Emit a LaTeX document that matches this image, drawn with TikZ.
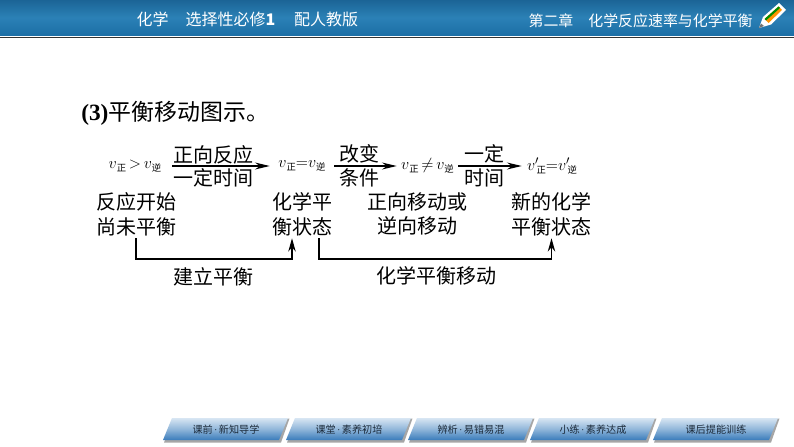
\documentclass[tikz,border=0pt]{standalone}
\usepackage{fontspec}
\setmainfont{Liberation Serif}
\newfontfamily\cjk{Noto Sans CJK SC}
\usetikzlibrary{arrows.meta,calc}
\newcommand{\fs}[1]{\fontsize{#1}{#1}\selectfont}
\newcommand{\vsub}[1]{$v$\raisebox{-2.4pt}{\cjk\fs{7}#1}}
\newcommand{\vsubp}[1]{$v'$\raisebox{-2.4pt}{\kern-2pt\cjk\fs{7}#1}}
\newcommand{\tabdot}{\kern1pt{\rmfamily ·}\kern1pt}
\definecolor{hdtop}{HTML}{1B6496}
\definecolor{hdmid}{HTML}{2B81B6}
\definecolor{hdbot}{HTML}{1C6FA6}
\definecolor{tabtop}{HTML}{D8E6F3}
\definecolor{tabbot}{HTML}{3A7CBB}
\definecolor{tabtext}{HTML}{1B2A3A}
\tikzset{
 hdtext/.style={inner sep=0pt,text=white,font=\cjk\fs{12}},
 hdtextr/.style={inner sep=0pt,text=white,font=\cjk\fs{11.2}},
 body/.style={inner sep=0pt,align=center,font=\cjk\fs{15}},
 twoline/.style={body,minimum height=36pt},
 mathnode/.style={inner sep=0pt,minimum height=12pt,font=\fs{12.4}},
 flow/.style={line width=1pt,-{Stealth[length=11pt,width=5.2pt]}},
 link/.style={line width=1pt,-{Stealth[length=10pt,width=5.6pt]}},
 tabtxt/.style={inner sep=0pt,text=tabtext,font=\cjk\fs{7.6}},
}
\newcommand{\tabbtn}[3]{%
 \fill[black!35] (#1+1,442.5) -- (#1+10,421) -- (#1+10,419) -- (#1+126.5,418.5) -- (#1+118,442.5) -- cycle;
 \shade[top color=tabtop,bottom color=tabbot,middle color=tabtop!55!tabbot] (#1,440) -- (#1+9,418) -- (#1+125,418) -- (#1+116,440) -- cycle;
 \node[tabtxt] (#2) at (#1+63,429.5) {#3};
}
\begin{document}
\begin{tikzpicture}[x=0.75pt,y=-0.75pt]
\useasboundingbox (0,0) rectangle (794,447);
\fill[white] (0,0) rectangle (794,447);
% header
\shade[top color=hdtop,bottom color=hdbot,middle color=hdmid] (0,0) rectangle (794,35);
\fill[black!80] (0,37) rectangle (794,38);
\node[hdtext] (h1) at (152.5,19.5) {化学};
\node[hdtext] (h2) at (230.5,19.5) {选择性必修{\bfseries 1}};
\node[hdtext] (h3) at (326,19.5) {配人教版};
\node[hdtextr] (h4) at (551,20.5) {第二章};
\node[hdtextr] (h5) at (670.5,20.5) {化学反应速率与化学平衡};
% pencil
\fill[white] (759,28) -- (763,17) -- (779,3) -- (786,10) -- (771,24.5) -- cycle;
\fill[orange!85!yellow] (764.5,19) -- (778.5,6.5) -- (782,10) -- (768.5,23) -- cycle;
\fill[green!55!black] (764.5,19) -- (778.5,6.5) -- (780,8) -- (766,20.5) -- cycle;
\fill[black!55] (759,28) -- (761,23.5) -- (764,26) -- cycle;
% title
\node[inner sep=0pt,anchor=west] (title) at (81,113) {{\fs{17.5}\bfseries (3)}{\cjk\fs{17.2}平衡移动图示。}};
% flow row
\node[mathnode,minimum width=55.5pt] (m1) at (135,166) {\vsub{正}\,$>$\,\vsub{逆}};
\node[mathnode,minimum width=48pt] (m2) at (302,166) {\vsub{正}$=$\vsub{逆}};
\node[mathnode,minimum width=45.75pt] (m3) at (427.5,166) {\vsub{正}\,$\neq$\,\vsub{逆}};
\node[mathnode,minimum width=45pt] (m4) at (552,166) {\vsubp{正}$=$\vsubp{逆}};
\draw[flow] (m1) -- (m2);
\draw[flow] (m2) -- (m3);
\draw[flow] (m3) -- (m4);
\node[body] (a1) at (213,155) {正向反应};
\node[body] (b1) at (213,178) {一定时间};
\node[body] (a2) at (359,154) {改变};
\node[body] (b2) at (359,178) {条件};
\node[body] (a3) at (484,154) {一定};
\node[body] (b3) at (484,178) {时间};
% state row
\node[twoline] (s1) at (136,214) {反应开始\\[3.5pt]尚未平衡};
\node[twoline] (s2) at (302,214) {化学平\\[3.5pt]衡状态};
\node[twoline] (s3) at (417,214) {正向移动或\\[3.5pt]逆向移动};
\node[twoline] (s4) at (551.5,214) {新的化学\\[3.5pt]平衡状态};
\coordinate (r1) at (0,259);
\draw[link] (s1.south) -- (s1.south |- r1) -| ([xshift=-7.5pt]s2.south);
\draw[link] ([xshift=12.75pt]s2.south) -- ([xshift=12.75pt]s2.south |- r1) -| (s4.south);
\node[body] (l1) at (213,277) {建立平衡};
\node[body] (l2) at (436,276) {化学平衡移动};
% tabs
\tabbtn{163}{t1}{课前\tabdot 新知导学}
\tabbtn{286}{t2}{课堂\tabdot 素养初培}
\tabbtn{408}{t3}{辨析\tabdot 易错易混}
\tabbtn{530}{t4}{小练\tabdot 素养达成}
\tabbtn{653}{t5}{课后提能训练}
\end{tikzpicture}
\end{document}
